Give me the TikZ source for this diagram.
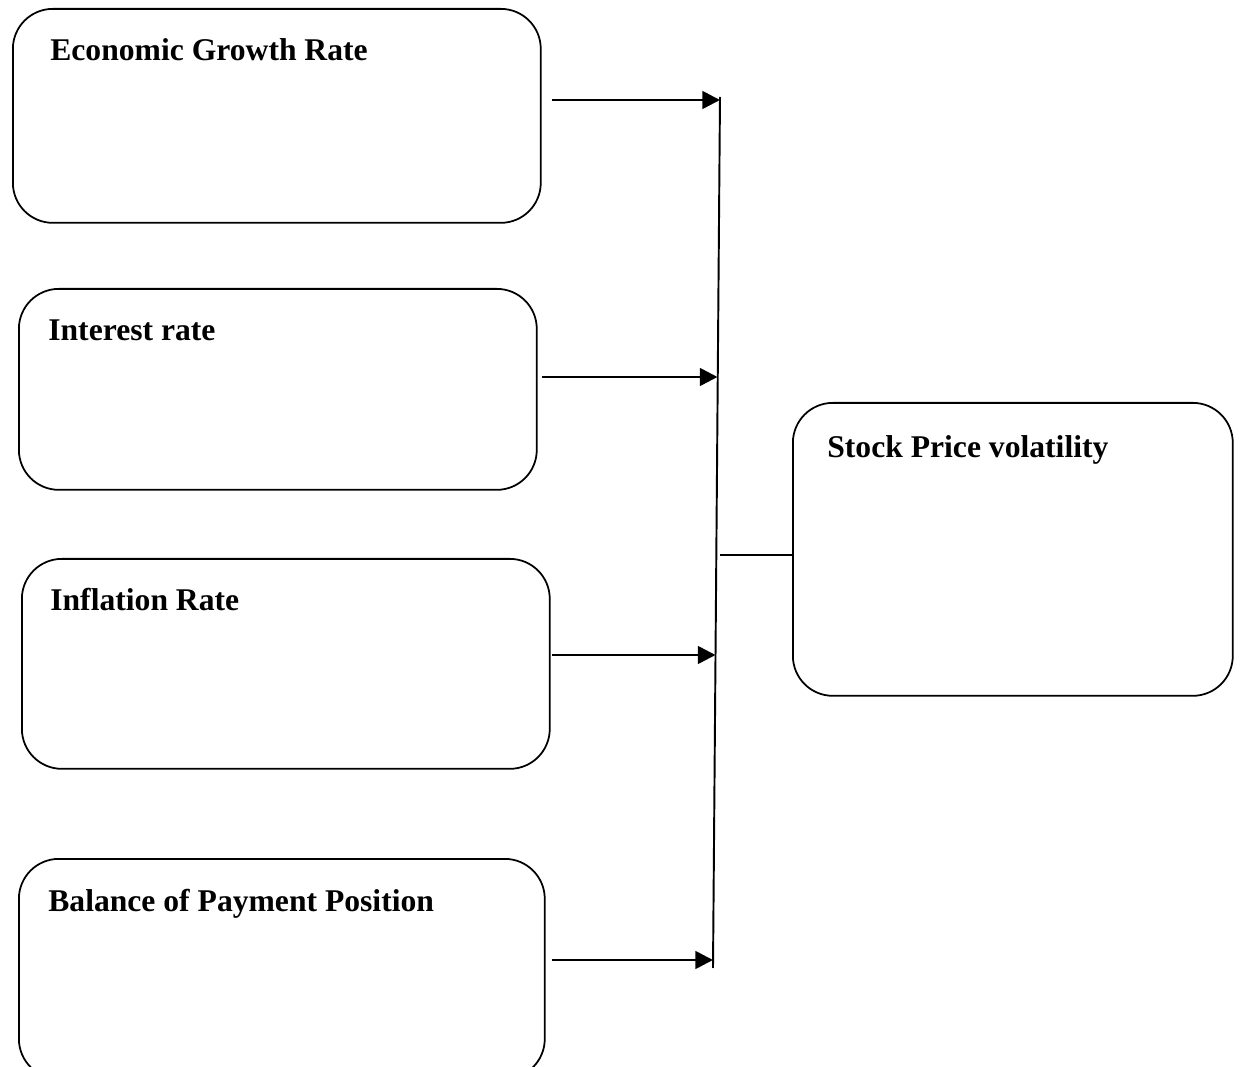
\documentclass[tikz,border=0pt]{standalone}
\usepackage{fontspec}
\setmainfont{Liberation Serif}
\usepackage{tikz}
\usetikzlibrary{arrows.meta, positioning, calc}

\begin{document}
\begin{tikzpicture}[x=0.02cm, y=-0.02cm,
    box/.style={draw, line width=1pt, rounded corners=0.8cm, anchor=north west, inner sep=0pt},
    lbl/.style={anchor=base west, inner sep=0pt, font=\fontsize{18}{21}\selectfont\bfseries},
    arr/.style={line width=1.5pt, -{Triangle[length=10pt, width=10pt]}},
    bus/.style={line width=1.1pt}]
    \useasboundingbox (0,0) rectangle (1242,1067);
    % factor boxes
    \node[box, minimum width=10.56cm, minimum height=4.28cm] (growth) at (12,8) {};
    \node[box, minimum width=10.36cm, minimum height=4.02cm] (interest) at (18,288) {};
    \node[box, minimum width=10.56cm, minimum height=4.20cm] (inflation) at (21,558) {};
    \node[box, minimum width=10.52cm, minimum height=4.40cm] (balance) at (18,858) {};
    \node[box, minimum width=8.80cm, minimum height=5.86cm] (stock) at (792,402) {};
    \node[lbl] at (50,61) {Economic Growth Rate};
    \node[lbl] at (48,341) {Interest rate};
    \node[lbl] at (50,611) {Inflation Rate};
    \node[lbl] at (48,911) {Balance of Payment Position};
    \node[lbl] at (827,458) {Stock Price volatility};
    % collecting line
    \coordinate (bustop) at (720,97);
    \coordinate (busbot) at (713,968);
    \coordinate (busmid) at (720,555);
    \draw[bus] (bustop) -- (busbot);
    \draw[bus] (busmid) -- (stock.west |- busmid);
    % arrows into the line
    \coordinate (e1) at (720,100);
    \coordinate (e2) at (717.5,377);
    \coordinate (e3) at (715.5,655);
    \coordinate (e4) at (713,960);
    \draw[arr] (growth.east |- e1) ++(10,0) -- (e1);
    \draw[arr] (interest.east |- e2) ++(4,0) -- (e2);
    \draw[arr] (inflation.east |- e3) ++(1,0) -- (e3);
    \draw[arr] (balance.east |- e4) ++(6,0) -- (e4);
\end{tikzpicture}
\end{document}
